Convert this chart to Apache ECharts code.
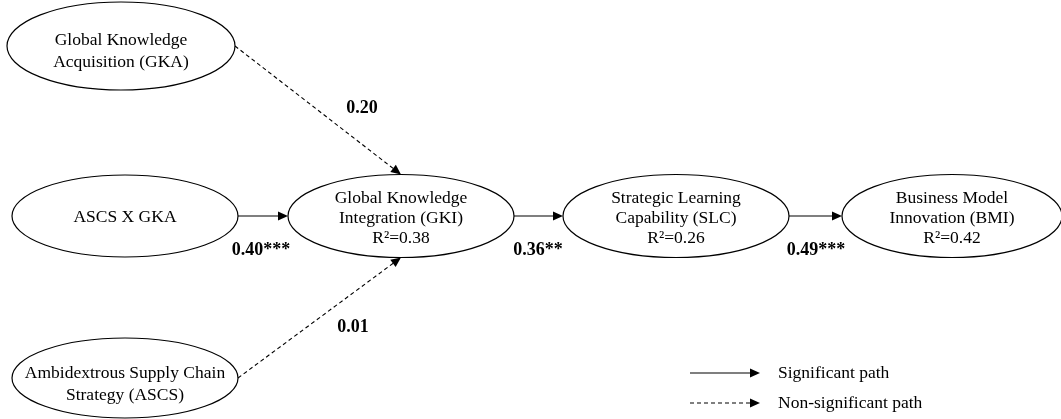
<!DOCTYPE html>
<html>
<head>
<meta charset="utf-8">
<script src="https://cdn.jsdelivr.net/npm/echarts@6/dist/echarts.min.js"></script>
<style>
html,body{margin:0;padding:0;background:#fff;}
#chart{width:1061px;height:419px;}
</style>
</head>
<body>
<div id="chart"></div>
<script>
// ---- data ----
const nodeIds = ['GKA', 'ASCSxGKA', 'ASCS', 'GKI', 'SLC', 'BMI'];
const nodeLabels = [
  ['Global Knowledge', 'Acquisition (GKA)'],
  ['ASCS X GKA'],
  ['Ambidextrous Supply Chain', 'Strategy (ASCS)'],
  ['Global Knowledge', 'Integration (GKI)'],
  ['Strategic Learning', 'Capability (SLC)'],
  ['Business Model', 'Innovation (BMI)']
];
const nodeR2 = [null, null, null, 0.38, 0.26, 0.42];
const pathFrom = ['GKA', 'ASCSxGKA', 'ASCS', 'GKI', 'SLC'];
const pathTo = ['GKI', 'GKI', 'GKI', 'SLC', 'BMI'];
const pathCoef = [0.20, 0.40, 0.01, 0.36, 0.49];
const pathStars = ['', '***', '', '**', '***'];
const pathSignificant = [false, true, false, true, true];
const legendLabels = ['Significant path', 'Non-significant path'];

// ---- layout (positions, sizes) ----
const nodeLayout = {           // cx, cy, rx, ry, text centre dy
  GKA:      [121, 46, 114, 44, 5],
  ASCSxGKA: [125, 216, 113, 41, 1],
  ASCS:     [125, 378, 113, 40, 6],
  GKI:      [401, 216, 113, 41.5, 2],
  SLC:      [676, 216, 113, 41.5, 2],
  BMI:      [952, 216, 110, 41.5, 2]
};
const pathPort = ['top', 'left', 'bottom', 'left', 'left'];
const pathLabelPos = [[362, 108], [261, 250], [353, 327], [538, 250], [816, 250]];
const legendPos = [[690, 760, 373, 778], [690, 760, 403, 778]];

const FONT = '"Liberation Serif", "Times New Roman", serif';

function portPoint(id, port) {
  const L = nodeLayout[id];
  if (port === 'left') return [L[0] - L[2], L[1]];
  if (port === 'right') return [L[0] + L[2], L[1]];
  if (port === 'top') return [L[0], L[1] - L[3]];
  return [L[0], L[1] + L[3]];
}

function arrowGroup(p1, p2, dashed) {
  const dx = p2[0] - p1[0], dy = p2[1] - p1[1];
  const len = Math.sqrt(dx * dx + dy * dy);
  const ux = dx / len, uy = dy / len;
  const hl = 10, hw = 4.5;
  const bx = p2[0] - ux * hl, by = p2[1] - uy * hl;
  return {
    type: 'group',
    children: [
      { type: 'line', shape: { x1: p1[0], y1: p1[1], x2: bx + ux * 1, y2: by + uy * 1 },
        style: { stroke: '#000', lineWidth: 1.1, lineDash: dashed ? [4, 3] : null } },
      { type: 'polygon', shape: { points: [[p2[0], p2[1]], [bx - uy * hw, by + ux * hw], [bx + uy * hw, by - ux * hw]] },
        style: { fill: '#000' } }
    ]
  };
}

const nodeData = nodeIds.map(function (id, i) { return [nodeLayout[id][0], nodeLayout[id][1], i]; });
const pathData = pathFrom.map(function (f, i) { return [pathLabelPos[i][0], pathLabelPos[i][1], i]; });
const legendData = legendLabels.map(function (t, i) { return [legendPos[i][0], legendPos[i][2], i]; });

const chart = echarts.init(document.getElementById('chart'), null, { renderer: 'canvas' });
chart.setOption({
  backgroundColor: '#fff',
  animation: false,
  grid: { left: 0, right: 0, top: 0, bottom: 0 },
  xAxis: { type: 'value', min: 0, max: 1061, show: false },
  yAxis: { type: 'value', min: 0, max: 419, inverse: true, show: false },
  series: [
    {
      type: 'custom', name: 'constructs', coordinateSystem: 'cartesian2d', silent: true,
      data: nodeData,
      renderItem: function (params, api) {
        const i = api.value(2);
        const id = nodeIds[i];
        const L = nodeLayout[id];
        const c = api.coord([api.value(0), api.value(1)]);
        const e = api.coord([L[0] + L[2], L[1] + L[3]]);
        const rx = e[0] - c[0], ry = e[1] - c[1];
        const d = 'M' + (c[0] - rx) + ' ' + c[1] +
          ' A' + rx + ' ' + ry + ' 0 1 0 ' + (c[0] + rx) + ' ' + c[1] +
          ' A' + rx + ' ' + ry + ' 0 1 0 ' + (c[0] - rx) + ' ' + c[1] + ' Z';
        const lines = nodeLabels[i].slice();
        if (nodeR2[i] !== null) lines.push('R\u00B2=' + nodeR2[i].toFixed(2));
        const lh = lines.length === 3 ? 20 : 22;
        return {
          type: 'group',
          children: [
            { type: 'path', shape: { pathData: d }, style: { fill: '#fff', stroke: '#000', lineWidth: 1.2 } },
            { type: 'text', style: { text: lines.join('\n'), x: c[0], y: c[1] + L[4], align: 'center', verticalAlign: 'middle',
              fontSize: 17.5, fontFamily: FONT, lineHeight: lh, fill: '#000' } }
          ]
        };
      }
    },
    {
      type: 'custom', name: 'paths', coordinateSystem: 'cartesian2d', silent: true,
      data: pathData,
      renderItem: function (params, api) {
        const i = api.value(2);
        const p1 = api.coord(portPoint(pathFrom[i], 'right'));
        const p2 = api.coord(portPoint(pathTo[i], pathPort[i]));
        const lp = api.coord([api.value(0), api.value(1)]);
        const g = arrowGroup(p1, p2, !pathSignificant[i]);
        g.children.push({ type: 'text', style: { text: pathCoef[i].toFixed(2) + pathStars[i], x: lp[0], y: lp[1],
          align: 'center', verticalAlign: 'middle', fontSize: 18, fontWeight: 'bold', fontFamily: FONT, fill: '#000' } });
        return g;
      }
    },
    {
      type: 'custom', name: 'legend', coordinateSystem: 'cartesian2d', silent: true,
      data: legendData,
      renderItem: function (params, api) {
        const i = api.value(2);
        const P = legendPos[i];
        const p1 = api.coord([P[0], P[2]]);
        const p2 = api.coord([P[1], P[2]]);
        const tp = api.coord([P[3], P[2]]);
        const g = arrowGroup(p1, p2, i === 1);
        g.children.push({ type: 'text', style: { text: legendLabels[i], x: tp[0], y: tp[1], align: 'left', verticalAlign: 'middle',
          fontSize: 17.5, fontFamily: FONT, fill: '#000' } });
        return g;
      }
    }
  ]
});
</script>
</body>
</html>
